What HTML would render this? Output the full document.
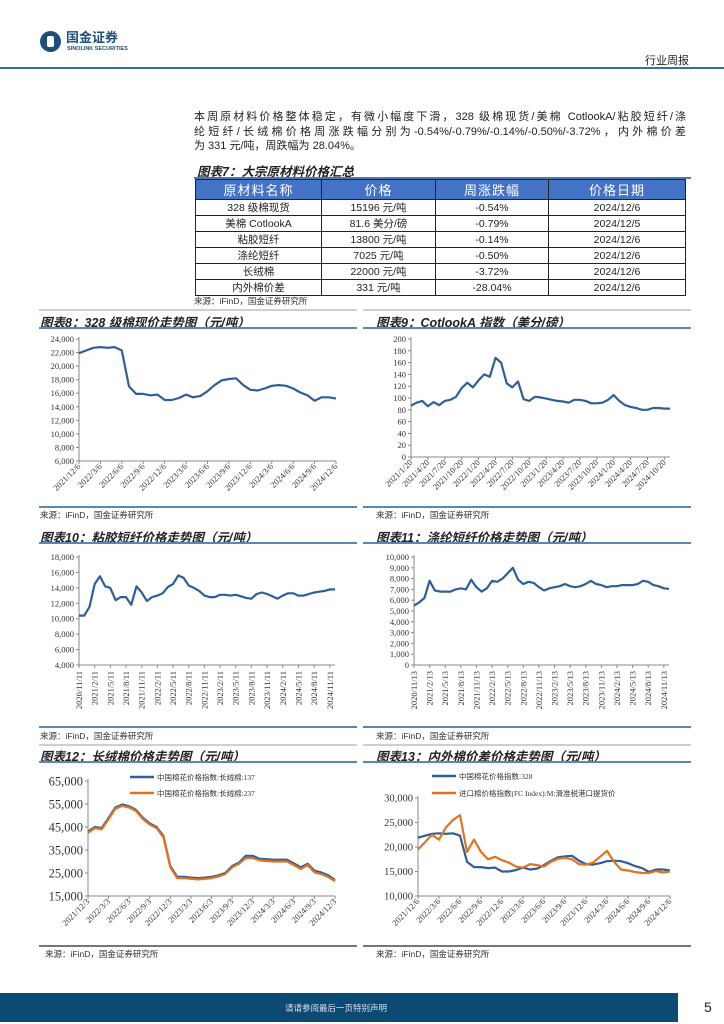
<!DOCTYPE html>
<html><head><meta charset="utf-8">
<style>
*{margin:0;padding:0;box-sizing:border-box}
body{width:724px;height:1024px;position:relative;background:#fff;font-family:"Liberation Sans","Noto Sans CJK SC",sans-serif;color:#222;overflow:hidden}
.abs{position:absolute}
.para{left:194px;width:492px;font-size:11px;line-height:14px;white-space:nowrap;font-family:"Liberation Sans","Noto Sans CJK SC",sans-serif}
.j{text-align:justify;text-align-last:justify;white-space:normal}
.ttl{font-size:12.5px;font-weight:bold;font-style:italic;white-space:nowrap}
.src{font-size:8.5px;color:#333;white-space:nowrap}
table{border-collapse:collapse;position:absolute;left:195px;top:179px;width:491px}
td,th{border:1px solid #222;text-align:center;font-size:10.5px;height:16px;padding:0;font-weight:normal}
th{background:#4472c4;color:#fff;font-size:13px;height:19px;letter-spacing:1px}
</style></head><body>
<div class="abs" style="left:40px;top:31px;width:21px;height:21px;border-radius:50%;background:#1d4f7c"></div>
<div class="abs" style="left:47px;top:36px;width:7px;height:11px;background:#fff;border-radius:2px"></div>
<div class="abs" style="left:66px;top:31px;font-size:13px;line-height:13px;font-weight:bold;color:#1d4f7c">国金证券</div>
<div class="abs" style="left:67px;top:46px;font-size:5.5px;line-height:6px;font-weight:bold;color:#1d4f7c">SINOLINK SECURITIES</div>
<div class="abs" style="left:645px;top:52px;font-size:11px">行业周报</div>
<div class="abs" style="left:0;top:67px;width:724px;height:2px;background:#3c6e9c"></div>

<div class="abs para j" style="top:110px">本周原材料价格整体稳定，有微小幅度下滑，328 级棉现货/美棉 CotlookA/粘胶短纤/涤</div>
<div class="abs para j" style="top:125px">纶短纤/长绒棉价格周涨跌幅分别为-0.54%/-0.79%/-0.14%/-0.50%/-3.72%，内外棉价差</div>
<div class="abs para" style="top:139px">为 331 元/吨，周跌幅为 28.04%。</div>

<div class="abs ttl" style="left:197px;top:161px">图表7：大宗原材料价格汇总</div>
<div class="abs" style="left:194px;top:177px;width:497px;height:2px;background:#4a7ab0"></div>
<table>
<tr><th style="width:126px">原材料名称</th><th style="width:114px">价格</th><th style="width:113px">周涨跌幅</th><th>价格日期</th></tr>
<tr><td>328 级棉现货</td><td>15196 元/吨</td><td>-0.54%</td><td>2024/12/6</td></tr>
<tr><td>美棉 CotlookA</td><td>81.6 美分/磅</td><td>-0.79%</td><td>2024/12/5</td></tr>
<tr><td>粘胶短纤</td><td>13800 元/吨</td><td>-0.14%</td><td>2024/12/6</td></tr>
<tr><td>涤纶短纤</td><td>7025 元/吨</td><td>-0.50%</td><td>2024/12/6</td></tr>
<tr><td>长绒棉</td><td>22000 元/吨</td><td>-3.72%</td><td>2024/12/6</td></tr>
<tr><td>内外棉价差</td><td>331 元/吨</td><td>-28.04%</td><td>2024/12/6</td></tr>
</table>
<div class="abs src" style="left:194px;top:295px">来源：iFinD，国金证券研究所</div>

<div class="abs ttl" style="left:40px;top:312px">图表8：328 级棉现价走势图（元/吨）</div>
<div class="abs ttl" style="left:376px;top:312px">图表9：CotlookA 指数（美分/磅）</div>
<div class="abs src" style="left:40px;top:509px">来源：iFinD，国金证券研究所</div>
<div class="abs src" style="left:376px;top:509px">来源：iFinD，国金证券研究所</div>
<div class="abs ttl" style="left:40px;top:527px">图表10：粘胶短纤价格走势图（元/吨）</div>
<div class="abs ttl" style="left:376px;top:527px">图表11：涤纶短纤价格走势图（元/吨）</div>
<div class="abs src" style="left:40px;top:730px">来源：iFinD，国金证券研究所</div>
<div class="abs src" style="left:376px;top:730px">来源：iFinD，国金证券研究所</div>
<div class="abs ttl" style="left:40px;top:746px">图表12：长绒棉价格走势图（元/吨）</div>
<div class="abs ttl" style="left:376px;top:746px">图表13：内外棉价差价格走势图（元/吨）</div>
<div class="abs src" style="left:45px;top:948px">来源：iFinD，国金证券研究所</div>
<div class="abs src" style="left:376px;top:948px">来源：iFinD，国金证券研究所</div>

<div class="abs" style="left:0;top:993px;width:678px;height:29px;background:#0b4a73"></div>
<div class="abs" style="left:285px;top:1002px;font-size:8.5px;color:#dde">请请参阅最后一页特别声明</div>
<div class="abs" style="left:704px;top:999px;font-size:14px">5</div>

<svg id="charts" class="abs" style="left:0;top:0" width="724" height="1024"></svg>

<script>
// ---- Data ----
const c8Labels=["2021/12/6","2022/3/6","2022/6/6","2022/9/6","2022/12/6","2023/3/6","2023/6/6","2023/9/6","2023/12/6","2024/3/6","2024/6/6","2024/9/6","2024/12/6"];
const c8YTicks=[6000,8000,10000,12000,14000,16000,18000,20000,22000,24000];
const c8Values=[21900,22300,22700,22800,22700,22800,22300,17000,15900,15900,15700,15800,15000,15000,15300,15800,15400,15600,16300,17200,17900,18100,18200,17200,16500,16400,16700,17100,17200,17100,16700,16100,15700,14900,15400,15400,15200];

const c9Labels=["2021/1/20","2021/4/20","2021/7/20","2021/10/20","2022/1/20","2022/4/20","2022/7/20","2022/10/20","2023/1/20","2023/4/20","2023/7/20","2023/10/20","2024/1/20","2024/4/20","2024/7/20","2024/10/20"];
const c9YTicks=[0,20,40,60,80,100,120,140,160,180,200];
const c9Values=[87,92,95,86,93,88,95,97,102,117,126,118,130,140,136,168,160,125,118,128,98,95,102,101,99,97,95,94,92,97,97,95,91,91,92,97,105,95,88,85,83,80,80,83,83,82,82];

const c10Labels=["2020/11/11","2021/2/11","2021/5/11","2021/8/11","2021/11/11","2022/2/11","2022/5/11","2022/8/11","2022/11/11","2023/2/11","2023/5/11","2023/8/11","2023/11/11","2024/2/11","2024/5/11","2024/8/11","2024/11/11"];
const c10YTicks=[4000,6000,8000,10000,12000,14000,16000,18000];
const c10Values=[10400,10400,11500,14500,15500,14200,14000,12400,12800,12800,11800,14200,13400,12300,12800,13000,13300,14100,14500,15600,15300,14300,14000,13600,13000,12800,12800,13100,13100,13000,13100,12900,12700,12600,13200,13400,13200,12900,12600,13000,13300,13300,13000,13000,13200,13400,13500,13600,13800,13800];

const c11Labels=["2020/11/13","2021/2/13","2021/5/13","2021/8/13","2021/11/13","2022/2/13","2022/5/13","2022/8/13","2022/11/13","2023/2/13","2023/5/13","2023/8/13","2023/11/13","2024/2/13","2024/5/13","2024/8/13","2024/11/13"];
const c11YTicks=[0,1000,2000,3000,4000,5000,6000,7000,8000,9000,10000];
const c11Values=[5500,5800,6200,7800,6900,6800,6800,6800,7000,7100,7000,7900,7200,6800,7100,7800,7700,8000,8500,9000,7900,7500,7700,7600,7200,6900,7100,7200,7300,7500,7300,7200,7300,7500,7800,7500,7400,7200,7300,7300,7400,7400,7400,7500,7800,7700,7400,7300,7100,7050];

const c12Labels=["2021/12/3","2022/3/3","2022/6/3","2022/9/3","2022/12/3","2023/3/3","2023/6/3","2023/9/3","2023/12/3","2024/3/3","2024/6/3","2024/9/3","2024/12/3"];
const c12YTicks=[15000,25000,35000,45000,55000,65000];
const c12Series137=[43000,45000,44500,49000,53500,54800,54000,52500,49000,46500,45000,41000,28000,23300,23300,23000,22800,23000,23300,24000,25000,28000,29500,32500,32500,31200,31000,30800,30800,30800,29200,27500,29000,26000,25200,24000,22000];
const c12Series237=[42500,44500,44000,48500,53000,54200,53500,52000,48500,46000,44500,40500,27500,22800,22800,22500,22200,22500,22800,23500,24500,27500,29000,31500,31500,30500,30200,30000,30000,30000,28500,26800,28500,25300,24500,23300,21500];

const c13Labels=["2021/12/6","2022/3/6","2022/6/6","2022/9/6","2022/12/6","2023/3/6","2023/6/6","2023/9/6","2023/12/6","2024/3/6","2024/6/6","2024/9/6","2024/12/6"];
const c13YTicks=[10000,15000,20000,25000,30000];
const c13Series328=c8Values.slice();
const c13SeriesImport=[19500,21000,22500,21500,24000,25500,26500,19000,21500,19000,17500,18000,17300,16800,16000,15800,16500,16300,16000,17000,17600,17800,17500,16500,16400,16800,18000,19200,17000,15400,15200,14900,14700,14700,15100,14800,15000];

// ---- Drawing ----
const NS="http://www.w3.org/2000/svg";
const svg=document.getElementById('charts');
function el(tag,attrs,parent){const e=document.createElementNS(NS,tag);for(const k in attrs)e.setAttribute(k,attrs[k]);(parent||svg).appendChild(e);return e;}
function fmt(v){return v.toLocaleString('en-US');}

function chart(name,box,yTicks,labels,tickStep,xmax,series,rot,fs){
  const g=el('g',{});
  
  
  const ymin=yTicks[0],ymax=yTicks[yTicks.length-1];
  const sx=i=>box.x0+(box.x1-box.x0)*i/xmax;
  const sy=v=>box.yb-(box.yb-box.yt)*(v-ymin)/(ymax-ymin);
  const ax=el('line',{x1:box.x0,y1:box.yt-2,x2:box.x0,y2:box.yb,stroke:'#888','stroke-width':1},g);
  
  
  const bx=el('line',{x1:box.x0,y1:box.yb,x2:box.x1,y2:box.yb,stroke:'#888','stroke-width':1},g);
  
  
  yTicks.forEach(v=>{
    el('line',{x1:box.x0-3,y1:sy(v),x2:box.x0,y2:sy(v),stroke:'#888'},g);
    const t=el('text',{x:box.x0-5,y:sy(v)+fs*0.35,'text-anchor':'end','font-size':fs,'font-family':'Liberation Serif, serif',fill:'#333'},g);
    t.textContent=fmt(v);
    
    
  });
  labels.forEach((lab,k)=>{
    const x=sx(k*tickStep);
    el('line',{x1:x,y1:box.yb,x2:x,y2:box.yb+3,stroke:'#888'},g);
    const lx=rot===90?x+3:x+2, ly=box.yb+6;
    const t=el('text',{x:lx,y:ly,'text-anchor':'end','font-size':box.lfs,'font-family':'Liberation Serif, serif',fill:'#333',transform:`rotate(-${rot} ${lx} ${ly})`},g);
    t.textContent=lab;
    
    
  });
  series.forEach(s=>{
    const d=s.values.map((v,i)=>(i?'L':'M')+sx(i).toFixed(1)+' '+sy(v).toFixed(1)).join(' ');
    const p=el('path',{d:d,fill:'none',stroke:s.color,'stroke-width':2.2,'stroke-linejoin':'round'},g);
    
    
  });
}
const BLUE='#2f5e9a',ORANGE='#e0731f';
chart('chart8-328-cotton',{x0:79,x1:336,yt:339,yb:461,lfs:8.5},c8YTicks,c8Labels,3,36,[{name:'line-328-cotton',color:BLUE,values:c8Values}],45,8.5);
chart('chart9-cotlook',{x0:411,x1:670,yt:339,yb:457,lfs:8.5},c9YTicks,c9Labels,3,46,[{name:'line-cotlook',color:BLUE,values:c9Values}],45,8.5);
chart('chart10-viscose',{x0:79,x1:335,yt:557,yb:665,lfs:8.5},c10YTicks,c10Labels,3,49,[{name:'line-viscose',color:BLUE,values:c10Values}],90,8.5);
chart('chart11-polyester',{x0:414,x1:669,yt:557,yb:665,lfs:8.5},c11YTicks,c11Labels,3,49,[{name:'line-polyester',color:BLUE,values:c11Values}],90,8.5);
chart('chart12-long-staple',{x0:88,x1:335,yt:781,yb:896,lfs:8.5},c12YTicks,c12Labels,3,36,[{name:'line-137',color:BLUE,values:c12Series137},{name:'line-237',color:ORANGE,values:c12Series237}],45,12.5);
chart('chart13-spread',{x0:418,x1:670,yt:798,yb:896,lfs:8.5},c13YTicks,c13Labels,3,36,[{name:'line-328-index',color:BLUE,values:c13Series328},{name:'line-import-index',color:ORANGE,values:c13SeriesImport}],45,10.5);

// legends
function legend(name,x,y,color,label){
  const g=el('g',{});
  
  
  el('line',{x1:x,y1:y,x2:x+24,y2:y,stroke:color,'stroke-width':2.5},g);
  const t=el('text',{x:x+27,y:y+3,'font-size':7.5,'font-family':'Liberation Serif, Noto Sans CJK SC, serif',fill:'#333'},g);
  t.textContent=label;
}
legend('legend-137',130,777,BLUE,'中国棉花价格指数:长绒棉:137');
legend('legend-237',130,793,ORANGE,'中国棉花价格指数:长绒棉:237');
legend('legend-328',432,776,BLUE,'中国棉花价格指数:328');
legend('legend-import',432,793,ORANGE,'进口棉价格指数(FC Index):M:滑准税港口提货价');

// panel rules
function rule(name,x1,x2,y,w,c){
  const l=el('line',{x1:x1,y1:y,x2:x2,y2:y,stroke:c,'stroke-width':w});
  
  
}
const RC='#5b88b2';
[[310,0.8],[328,2],[507,2],[543,2],[727,2],[745,0.8],[762,2],[946,2]].forEach(([y,w])=>{
  rule('panel-rule-left',39,357,y,w,y===946?'#777':RC);
  rule('panel-rule-right',363,691,y,w,y===946?'#777':RC);
});
</script>
</body></html>
